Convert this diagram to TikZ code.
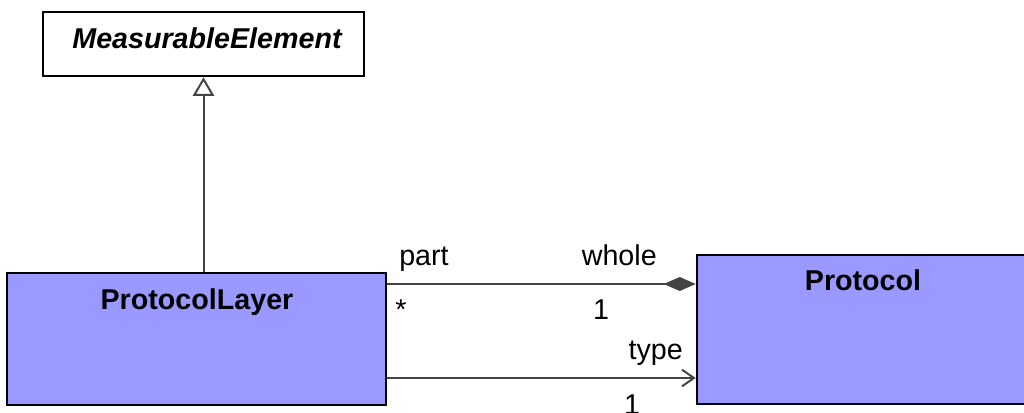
\documentclass[tikz,border=0pt]{standalone}
\usepackage{fontspec}
\setmainfont{Liberation Sans}
\usetikzlibrary{arrows.meta}
\definecolor{classfill}{RGB}{153,153,255}
\definecolor{linegray}{RGB}{68,68,68}
\tikzset{
  classbox/.style={draw=black, line width=1.9pt, rectangle, inner sep=0pt},
  classname/.style={anchor=base, font=\fontsize{21.5}{26}\selectfont\bfseries},
  rolelabel/.style={anchor=base, inner sep=0pt, font=\fontsize{21.5}{26}\selectfont},
  conn/.style={draw=linegray, line width=1.5pt},
  gen/.style={conn, -{Triangle[open, fill=white, width=16pt, length=14pt]}},
  comp/.style={conn, -{Diamond[fill=linegray, width=10.5pt, length=24pt]}},
  assoc/.style={conn, -{Straight Barb[width=12.5pt, length=9pt]}}
}
\begin{document}
\begin{tikzpicture}[x=0.75pt,y=-0.75pt]
\useasboundingbox (0,0) rectangle (1024,413);
\node[classbox, fill=white, minimum width=240.75pt, minimum height=48pt] (meas) at (203.5,44) {};
\node[classname, font=\fontsize{21.5}{26}\selectfont\bfseries\itshape] (measname) at (207,49) {MeasurableElement};
\node[classbox, fill=classfill, minimum width=284.25pt, minimum height=99pt] (layer) at (196.5,339) {};
\node[classname] (layername) at (197,309) {ProtocolLayer};
\node[classbox, fill=classfill, minimum width=249pt, minimum height=111.75pt] (proto) at (863,329.5) {};
\node[classname] (protoname) at (863,291) {Protocol};
\coordinate (compy) at (0,284);
\coordinate (assocy) at (0,378);
\draw[gen] (layer.north -| meas.south) -- (meas.south);
\draw[comp] (layer.east |- compy) -- (proto.west |- compy);
\draw[assoc] (layer.east |- assocy) -- (proto.west |- assocy);
\node[rolelabel, anchor=base west] (part) at (399,266) {part};
\node[rolelabel, anchor=base east] (whole) at (657,266) {whole};
\node[rolelabel, anchor=base west] (partmult) at (395,319) {*};
\node[rolelabel] (wholemult) at (601,319) {1};
\node[rolelabel, anchor=base east] (type) at (683,359) {type};
\node[rolelabel] (typemult) at (632,414) {1};
\end{tikzpicture}
\end{document}
